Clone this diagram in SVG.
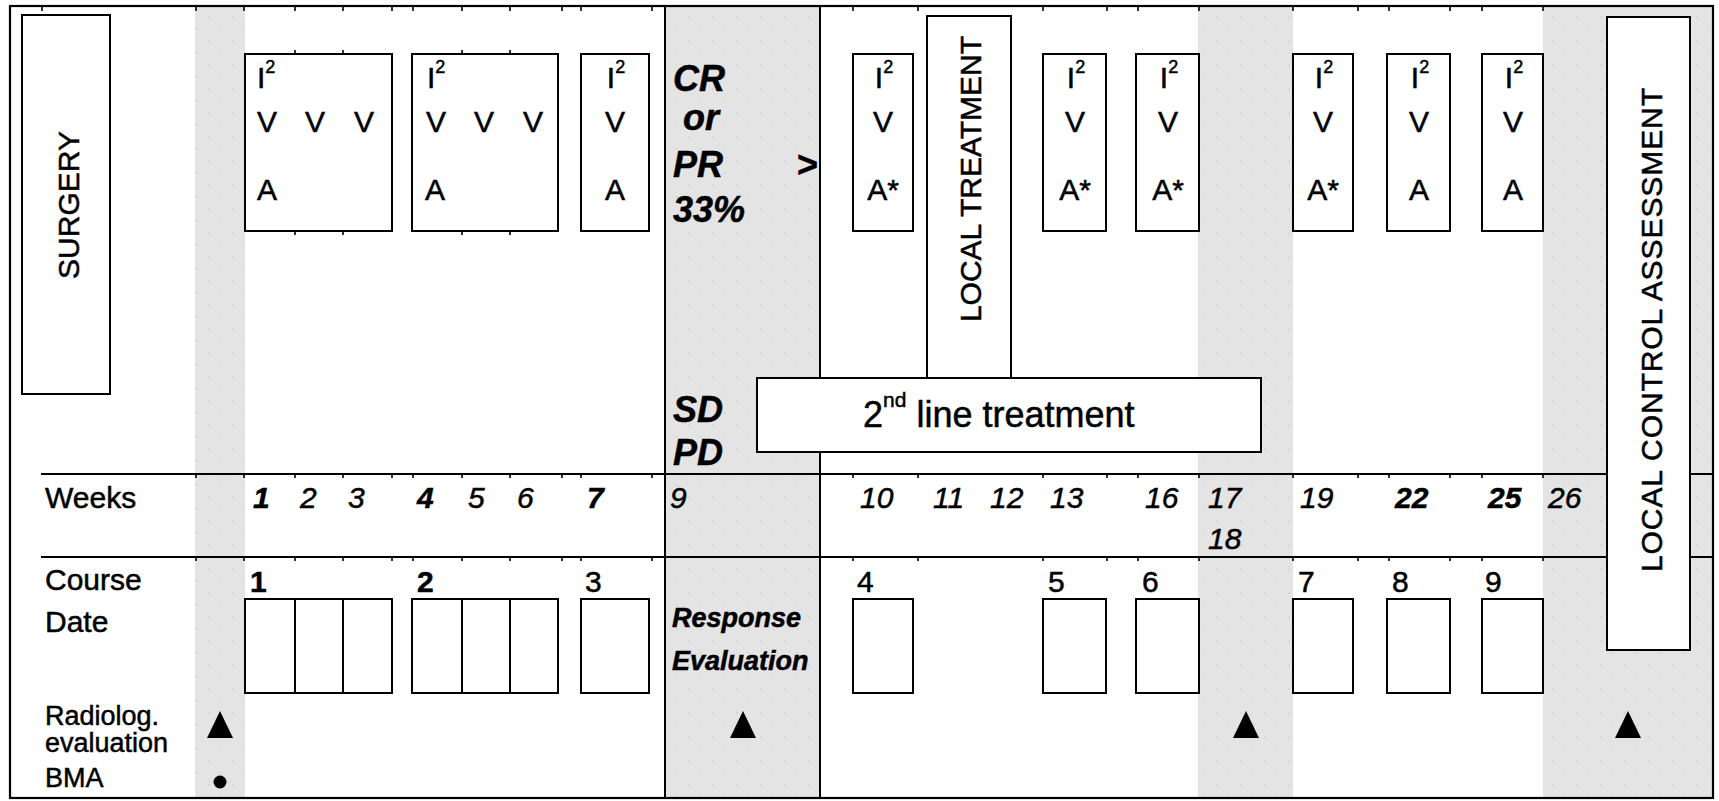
<svg xmlns="http://www.w3.org/2000/svg" width="1719" height="801" viewBox="0 0 1719 801">
<defs>
<pattern id="dots" width="24" height="24" patternUnits="userSpaceOnUse">
<rect width="24" height="24" fill="#e4e4e4"/>
<circle cx="5" cy="5" r="0.9" fill="#d2d2d2"/>
<circle cx="17" cy="17" r="0.9" fill="#d2d2d2"/>
</pattern>
<style>
.t{font-family:"Liberation Sans",Arial,sans-serif;fill:#000;stroke:#000;stroke-width:0.5}
.lbl{font-size:30px}
.sm{font-size:27px}
.big{font-size:36px}
.wk{font-size:30px;font-style:italic}
.b{font-weight:bold}
.bi{font-weight:bold;font-style:italic}
.box{fill:#fff;stroke:#000;stroke-width:2}
.cell{fill:none;stroke:#000;stroke-width:2}
.ln{stroke:#000;stroke-width:2;fill:none}
.tk{stroke:#000;stroke-width:1.6;fill:none}
.gray{fill:url(#dots)}
.mid{text-anchor:middle}
</style>
</defs>
<rect x="0" y="0" width="1719" height="801" fill="#fff"/>

<g id="shading">
<rect class="gray" x="195" y="6" width="50" height="792"/>
<rect class="gray" x="665" y="6" width="155" height="792"/>
<rect class="gray" x="1198" y="6" width="95" height="792"/>
<rect class="gray" x="1543" y="6" width="170" height="792"/>
</g>

<g id="grid">
<line class="ln" x1="665" y1="6" x2="665" y2="798"/>
<line class="ln" x1="820" y1="6" x2="820" y2="798"/>
<line class="ln" x1="41" y1="474" x2="1713" y2="474"/>
<line class="ln" x1="41" y1="557" x2="1713" y2="557"/>
<path class="tk" d="M42 7v4M196 7v4M244 7v4M295 7v4M343 7v4M392 7v4M413 7v4M462 7v4M510 7v4M562 7v4M581 7v4M652 7v4M853 7v4M918 7v4M1043 7v4M1107 7v4M1138 7v4M1199 7v4M1293 7v4M1358 7v4M1389 7v4M1450 7v4M1482 7v4M1543 7v4"/>
<path class="tk" d="M196 474v4M244 474v4M295 474v4M343 474v4M392 474v4M413 474v4M462 474v4M510 474v4M562 474v4M581 474v4M652 474v4M853 474v4M918 474v4M1043 474v4M1107 474v4M1138 474v4M1199 474v4M1293 474v4M1358 474v4M1389 474v4M1450 474v4M1482 474v4M1543 474v4"/>
<path class="tk" d="M196 557v4M244 557v4M295 557v4M343 557v4M392 557v4M413 557v4M462 557v4M510 557v4M562 557v4M581 557v4M652 557v4M853 557v4M918 557v4M1043 557v4M1107 557v4M1138 557v4M1199 557v4M1293 557v4M1358 557v4M1389 557v4M1450 557v4M1482 557v4M1543 557v4"/>
<path class="tk" d="M295 50v4M343 50v4M462 50v4M510 50v4M295 231v4M343 231v4M462 231v4M510 231v4"/>
</g>

<g id="surgery">
<rect class="box" x="22" y="15" width="88" height="379"/>
<text class="t lbl mid" transform="translate(79,205) rotate(-90)" font-size="31">SURGERY</text>
</g>

<g id="course1">
<rect class="cell" x="245" y="54" width="147" height="177"/>
<text class="t lbl" x="257" y="88">I<tspan font-size="18" dy="-15">2</tspan></text>
<text class="t lbl" x="257" y="132">V</text>
<text class="t lbl" x="305" y="132">V</text>
<text class="t lbl" x="354" y="132">V</text>
<text class="t lbl" x="257" y="200">A</text>
</g>
<g id="course2">
<rect class="cell" x="412" y="54" width="146" height="177"/>
<text class="t lbl" x="427" y="88">I<tspan font-size="18" dy="-15">2</tspan></text>
<text class="t lbl" x="426" y="132">V</text>
<text class="t lbl" x="474" y="132">V</text>
<text class="t lbl" x="523" y="132">V</text>
<text class="t lbl" x="425" y="200">A</text>
</g>
<g id="course3">
<rect class="cell" x="581" y="54" width="68" height="177"/>
<text class="t lbl mid" x="616" y="88">I<tspan font-size="18" dy="-15">2</tspan></text>
<text class="t lbl mid" x="615" y="132">V</text>
<text class="t lbl mid" x="615" y="200">A</text>
</g>
<g id="course4">
<rect class="cell" x="853" y="54" width="60" height="177"/>
<text class="t lbl mid" x="884" y="88">I<tspan font-size="18" dy="-15">2</tspan></text>
<text class="t lbl mid" x="883" y="132">V</text>
<text class="t lbl mid" x="883" y="200">A*</text>
</g>
<g id="course5">
<rect class="cell" x="1043" y="54" width="63" height="177"/>
<text class="t lbl mid" x="1076" y="88">I<tspan font-size="18" dy="-15">2</tspan></text>
<text class="t lbl mid" x="1075" y="132">V</text>
<text class="t lbl mid" x="1075" y="200">A*</text>
</g>
<g id="course6">
<rect class="cell" x="1136" y="54" width="63" height="177"/>
<text class="t lbl mid" x="1169" y="88">I<tspan font-size="18" dy="-15">2</tspan></text>
<text class="t lbl mid" x="1168" y="132">V</text>
<text class="t lbl mid" x="1168" y="200">A*</text>
</g>
<g id="course7">
<rect class="cell" x="1293" y="54" width="60" height="177"/>
<text class="t lbl mid" x="1324" y="88">I<tspan font-size="18" dy="-15">2</tspan></text>
<text class="t lbl mid" x="1323" y="132">V</text>
<text class="t lbl mid" x="1323" y="200">A*</text>
</g>
<g id="course8">
<rect class="cell" x="1387" y="54" width="63" height="177"/>
<text class="t lbl mid" x="1420" y="88">I<tspan font-size="18" dy="-15">2</tspan></text>
<text class="t lbl mid" x="1419" y="132">V</text>
<text class="t lbl mid" x="1419" y="200">A</text>
</g>
<g id="course9">
<rect class="cell" x="1482" y="54" width="61" height="177"/>
<text class="t lbl mid" x="1514" y="88">I<tspan font-size="18" dy="-15">2</tspan></text>
<text class="t lbl mid" x="1513" y="132">V</text>
<text class="t lbl mid" x="1513" y="200">A</text>
</g>

<g id="response">
<text class="t big bi" x="673" y="91">CR</text>
<text class="t big bi" x="683" y="130">or</text>
<text class="t big bi" x="673" y="177">PR</text>
<text class="t big bi" x="673" y="222">33%</text>
<text class="t big b" x="797" y="177">&gt;</text>
<text class="t big bi" x="673" y="422">SD</text>
<text class="t big bi" x="673" y="465">PD</text>
</g>

<g id="local-treatment">
<rect class="box" x="927" y="16" width="84" height="380"/>
<text class="t lbl mid" transform="translate(981,179) rotate(-90)">LOCAL TREATMENT</text>
</g>

<g id="second-line">
<rect class="box" x="757" y="378" width="504" height="74"/>
<text class="t" font-size="36" x="863" y="427">2<tspan font-size="21" dy="-20">nd</tspan><tspan dy="20"> line treatment</tspan></text>
</g>

<g id="weeks">
<text class="t lbl" x="45" y="508">Weeks</text>
<text class="t wk b" x="253" y="508">1</text>
<text class="t wk" x="300" y="508">2</text>
<text class="t wk" x="348" y="508">3</text>
<text class="t wk b" x="417" y="508">4</text>
<text class="t wk" x="468" y="508">5</text>
<text class="t wk" x="517" y="508">6</text>
<text class="t wk b" x="587" y="508">7</text>
<text class="t wk" x="670" y="508">9</text>
<text class="t wk" x="860" y="508">10</text>
<text class="t wk" x="933" y="508">11</text>
<text class="t wk" x="990" y="508">12</text>
<text class="t wk" x="1050" y="508">13</text>
<text class="t wk" x="1145" y="508">16</text>
<text class="t wk" x="1208" y="508">17</text>
<text class="t wk" x="1208" y="549">18</text>
<text class="t wk" x="1300" y="508">19</text>
<text class="t wk b" x="1395" y="508">22</text>
<text class="t wk b" x="1488" y="508">25</text>
<text class="t wk" x="1548" y="508">26</text>
</g>

<g id="courses">
<text class="t lbl" x="45" y="590">Course</text>
<text class="t lbl" x="45" y="632">Date</text>
<text class="t lbl b" x="250" y="592">1</text>
<text class="t lbl b" x="417" y="592">2</text>
<text class="t lbl" x="585" y="592">3</text>
<text class="t lbl" x="857" y="592">4</text>
<text class="t lbl" x="1048" y="592">5</text>
<text class="t lbl" x="1142" y="592">6</text>
<text class="t lbl" x="1298" y="592">7</text>
<text class="t lbl" x="1392" y="592">8</text>
<text class="t lbl" x="1485" y="592">9</text>
</g>

<g id="date-boxes">
<rect class="box" x="245" y="599" width="147" height="94"/>
<line class="ln" x1="295" y1="599" x2="295" y2="693"/>
<line class="ln" x1="343" y1="599" x2="343" y2="693"/>
<rect class="box" x="412" y="599" width="146" height="94"/>
<line class="ln" x1="462" y1="599" x2="462" y2="693"/>
<line class="ln" x1="510" y1="599" x2="510" y2="693"/>
<rect class="box" x="581" y="599" width="68" height="94"/>
<rect class="box" x="853" y="599" width="60" height="94"/>
<rect class="box" x="1043" y="599" width="63" height="94"/>
<rect class="box" x="1136" y="599" width="63" height="94"/>
<rect class="box" x="1293" y="599" width="60" height="94"/>
<rect class="box" x="1387" y="599" width="63" height="94"/>
<rect class="box" x="1482" y="599" width="61" height="94"/>
</g>

<g id="evaluation">
<text class="t sm bi" x="672" y="627">Response</text>
<text class="t sm bi" x="672" y="670">Evaluation</text>
</g>

<g id="radiology">
<text class="t sm" x="45" y="725">Radiolog.</text>
<text class="t sm" x="45" y="752">evaluation</text>
<text class="t sm" x="45" y="787">BMA</text>
<polygon points="207,738 233,738 220,711" fill="#000"/>
<polygon points="730,738 756,738 743,711" fill="#000"/>
<polygon points="1233,738 1259,738 1246,711" fill="#000"/>
<polygon points="1615,738 1641,738 1628,711" fill="#000"/>
<circle cx="220" cy="782" r="6.5" fill="#000"/>
</g>

<g id="local-control">
<rect class="box" x="1607" y="17" width="83" height="633"/>
<text class="t mid" font-size="30" transform="translate(1662,330) rotate(-90)" textLength="484">LOCAL  CONTROL ASSESSMENT</text>
</g>

<rect x="10" y="6" width="1703" height="792" fill="none" stroke="#000" stroke-width="2.2"/>
</svg>
